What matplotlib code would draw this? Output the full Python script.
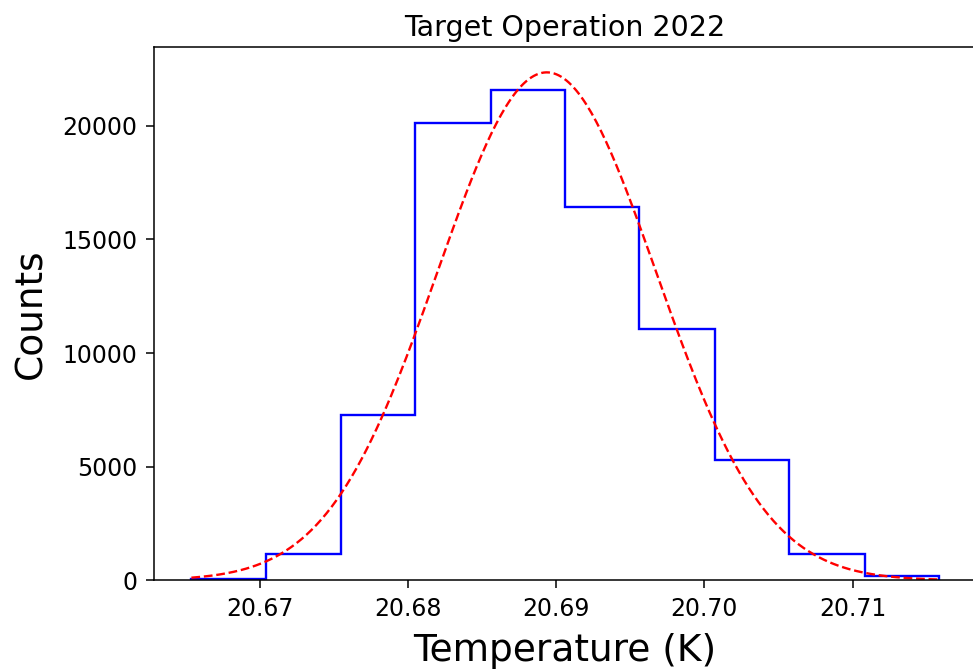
import matplotlib
matplotlib.use("Agg")
import matplotlib.pyplot as plt
import numpy as np

# histogram of target temperature (10 bins)
binEdges = [20.6654, 20.6704, 20.6755, 20.6805, 20.6856, 20.6906,
            20.6956, 20.7007, 20.7057, 20.7108, 20.7158]
counts = [50, 1157, 7260, 20134, 21586, 16438, 11057, 5293, 1144, 210]

# gaussian fit parameters
fitAmplitude = 22352
fitMean = 20.68937
fitSigma = 0.00738

fig = plt.figure(figsize=(9.73, 6.71), dpi=100)
ax = fig.add_axes([0.1583, 0.1352, 0.8448, 0.7948])

ax.stairs(counts, binEdges, color="blue", linewidth=1.7)

xFit = np.linspace(binEdges[0], binEdges[-1], 300)
yFit = fitAmplitude * np.exp(-(xFit - fitMean) ** 2 / (2 * fitSigma ** 2))
ax.plot(xFit, yFit, "r--", linewidth=1.7)

ax.set_title("Target Operation 2022", fontsize=20.5, pad=8)
ax.set_xlabel("Temperature (K)", fontsize=27, labelpad=9)
ax.set_ylabel("Counts", fontsize=27, labelpad=9)
ax.set_xticks([20.67, 20.68, 20.69, 20.70, 20.71])
ax.set_xticklabels(["20.67", "20.68", "20.69", "20.70", "20.71"])
ax.set_yticks([0, 5000, 10000, 15000, 20000])
ax.tick_params(labelsize=17, length=5.5, width=1.1, pad=6.5)
for s in ax.spines.values():
    s.set_linewidth(1.1)

fig.savefig("out.png", dpi=100)
